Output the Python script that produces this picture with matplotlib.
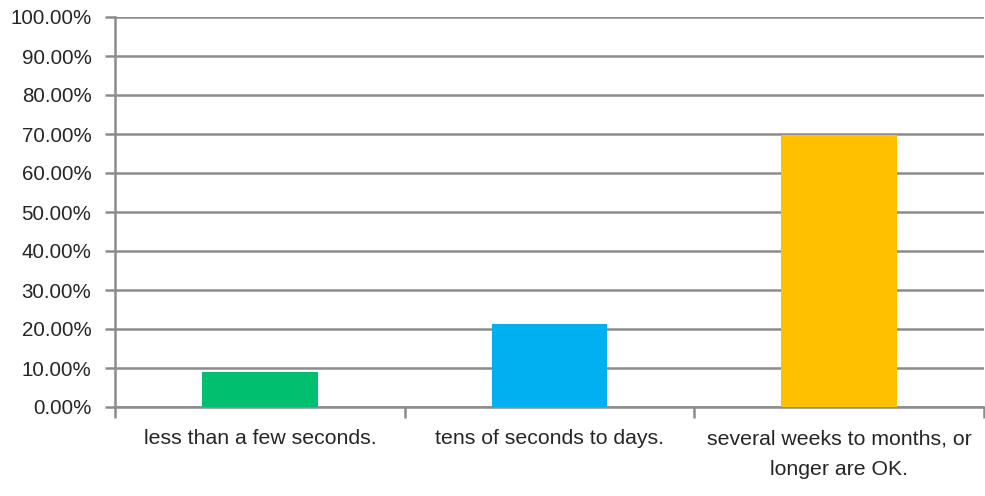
import matplotlib.pyplot as plt
from matplotlib.ticker import FuncFormatter, FixedLocator

# survey answers: share of respondents per acceptable turnaround time
categories = ["less than a few seconds.",
              "tens of seconds to days.",
              "several weeks to months, or\nlonger are OK."]
shares = [9.09, 21.21, 69.70]
colors = ["#00BF6F", "#00B0F0", "#FFC000"]
y_ticks = [0, 10, 20, 30, 40, 50, 60, 70, 80, 90, 100]

plt.rcParams['font.family'] = ['Liberation Sans', 'DejaVu Sans']

fig = plt.figure(figsize=(9.85, 4.96), dpi=100)
ax = fig.add_axes([115 / 985, 89 / 496, 869 / 985, 390 / 496])

grid_color = "#8C8C8C"
x = list(range(len(categories)))
ax.bar(x, shares, width=0.40, color=colors, zorder=3)

ax.set_xlim(-0.5, len(categories) - 0.5)
ax.set_ylim(0, 100)
ax.set_yticks(y_ticks)
ax.yaxis.set_major_formatter(FuncFormatter(lambda v, p: f"{v:.2f}%"))
ax.yaxis.grid(True, color=grid_color, linewidth=1.8, zorder=0)

# category labels sit between boundary ticks
ax.set_xticks(x)
ax.set_xticklabels(categories, linespacing=1.8)
ax.xaxis.set_minor_locator(FixedLocator([i - 0.5 for i in range(len(categories) + 1)]))
ax.tick_params(axis='x', which='major', length=0, pad=16, labelsize=15.3, colors="#262626")
ax.tick_params(axis='x', which='minor', length=8, width=1.8, color=grid_color)
ax.tick_params(axis='y', length=7, width=1.8, color=grid_color, labelsize=14.8,
               labelcolor="#262626", pad=10)

for side in ['top', 'right']:
    ax.spines[side].set_visible(False)
for side in ['left', 'bottom']:
    ax.spines[side].set_color(grid_color)
    ax.spines[side].set_linewidth(1.8)

plt.savefig("out.png", dpi=100)
